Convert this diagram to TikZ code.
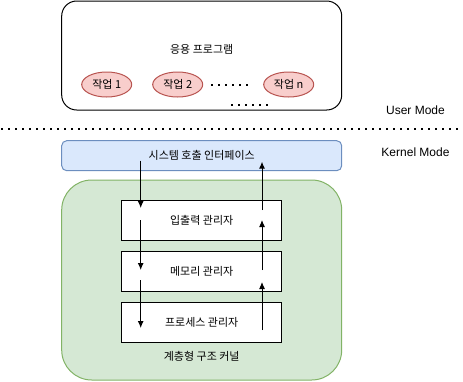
\documentclass[tikz,border=0pt]{standalone}
\usepackage{fontspec}
\setmainfont{Liberation Sans}
\newfontfamily\kr{Noto Sans CJK KR}
\usetikzlibrary{shapes.geometric, arrows.meta, positioning}

\definecolor{jobfill}{HTML}{F8CECC}
\definecolor{jobline}{HTML}{B85450}
\definecolor{scifill}{HTML}{DAE8FC}
\definecolor{sciline}{HTML}{6C8EBF}
\definecolor{kernfill}{HTML}{D5E8D4}
\definecolor{kernline}{HTML}{82B366}

\begin{document}
\begin{tikzpicture}[
    x=1pt, y=-1pt,
    line width=1pt,
    node distance=10pt and 20pt,
    area/.style={rectangle, draw, minimum width=280pt, inner sep=0pt},
    job/.style={ellipse, draw=jobline, fill=jobfill, minimum width=50pt, minimum height=25pt, inner sep=0pt, font=\kr\fontsize{11}{13}\selectfont},
    layerbox/.style={rectangle, draw, fill=white, minimum width=160pt, minimum height=40pt, inner sep=0pt, font=\kr\fontsize{11}{13}\selectfont},
    krtxt/.style={font=\kr\fontsize{11}{13}\selectfont},
    modetxt/.style={font=\fontsize{12}{14}\selectfont},
    flow/.style={-{Latex[length=7pt,width=6pt]}},
    dots/.style={line width=2pt, dash pattern=on 2pt off 5pt}
]
\useasboundingbox (0,0) rectangle (463,381);

% User side
\node[area, minimum height=109pt, rounded corners=15pt] (user) at (201.7,55.5) {};
\node[krtxt] (app) at (201.7,49) {응용 프로그램};
\node[job] (job1) at (106.7,84.5) {작업 1};
\node[job, right=of job1] (job2) {작업 2};
\node[job, right=60pt of job2] (jobn) {작업 n};
\draw[dots] (211,85) -- (249,85);
\draw[dots] (231,105) -- (269,105);

% Mode border
\draw[dots] (1,128.5) -- (463,128.5);
\node[modetxt] (usermode) at (415.5,110) {User Mode};
\node[modetxt] (kernmode) at (415.5,152) {Kernel Mode};

% Kernel side
\node[area, draw=sciline, fill=scifill, minimum height=30pt, rounded corners=5pt, krtxt] (sci) at (201.7,155.7) {시스템 호출 인터페이스};
\node[area, draw=kernline, fill=kernfill, minimum height=200pt, rounded corners=30pt] (kernel) at (201.7,280) {};
\node[layerbox] (io) at (201.7,220) {입출력 관리자};
\node[layerbox, below=of io] (mem) {메모리 관리자};
\node[layerbox, below=of mem] (proc) {프로세스 관리자};
\node[krtxt] (layered) at (201.7,356.7) {계층형 구조 커널};

% Call path down
\coordinate (d0) at (140.7,160.7);
\coordinate (d1) at (140.7,208);
\coordinate (d2) at (140.7,220);
\coordinate (d3) at (140.7,270);
\coordinate (d4) at (140.7,280);
\coordinate (d5) at (140.7,328);
\draw[flow] (d0) -- (d1);
\draw[flow] (d2) -- (d3);
\draw[flow] (d4) -- (d5);

% Return path up
\coordinate (u0) at (262,330);
\coordinate (u1) at (262,282);
\coordinate (u2) at (262,270);
\coordinate (u3) at (262,220);
\coordinate (u4) at (262,210);
\coordinate (u5) at (262,161.7);
\draw[flow] (u0) -- (u1);
\draw[flow] (u2) -- (u3);
\draw[flow] (u4) -- (u5);

\end{tikzpicture}
\end{document}
